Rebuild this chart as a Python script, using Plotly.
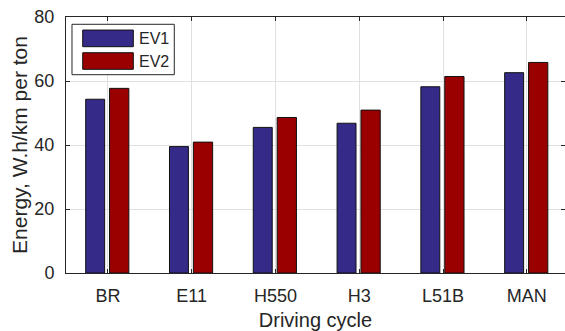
import plotly.graph_objects as go

categories = ["BR", "E11", "H550", "H3", "L51B", "MAN"]
ev1 = [54.3, 39.5, 45.5, 46.8, 58.2, 62.6]
ev2 = [57.7, 40.9, 48.6, 50.9, 61.4, 65.8]
series_names = ["EV1", "EV2"]
y_ticks = [0, 20, 40, 60, 80]

c1 = "#352a87"
c2 = "#9b0000"
txt = "#262626"
font = "Liberation Sans, Arial, sans-serif"

fig = go.Figure()
fig.add_trace(go.Bar(x=categories, y=ev1, name=series_names[0], marker=dict(color=c1, line=dict(color="#111111", width=1)),
                     offset=-0.265, width=0.226, showlegend=False))
fig.add_trace(go.Bar(x=categories, y=ev2, name=series_names[1], marker=dict(color=c2, line=dict(color="#111111", width=1)),
                     offset=0.02, width=0.23, showlegend=False))

fig.update_layout(
    template="none",
    width=565, height=331,
    margin=dict(l=66, r=0, t=17, b=58, pad=0),
    paper_bgcolor="white", plot_bgcolor="white",
    barmode="overlay",
    font=dict(family=font, color=txt, size=18),
)
fig.update_xaxes(
    type="category", range=[-0.5, 5.455], automargin=False,
    showgrid=True, gridcolor="#e0e0e0", gridwidth=1,
    showline=True, linecolor="#262626", linewidth=1, mirror="ticks",
    ticks="inside", ticklen=4, tickcolor="#262626",
    tickfont=dict(size=18, color=txt), ticklabelstandoff=6,
    title=dict(text="Driving cycle", font=dict(size=20, color=txt), standoff=9),
    zeroline=False,
)
fig.update_yaxes(
    range=[0, 80], tickvals=y_ticks, automargin=False,
    showgrid=True, gridcolor="#e0e0e0", gridwidth=1,
    showline=True, linecolor="#262626", linewidth=1, mirror="ticks",
    ticks="inside", ticklen=4, tickcolor="#262626",
    tickfont=dict(size=18, color=txt), ticklabelstandoff=7,
    title=dict(text="Energy, W.h/km per ton", font=dict(size=21, color=txt), standoff=1),
    zeroline=False,
)

# legend drawn as box + wide swatches
shapes = [
    dict(type="rect", xref="paper", yref="paper", x0=0.012, x1=0.217, y0=0.7746, y1=0.9715,
         line=dict(color="#262626", width=1), fillcolor="white", layer="above"),
    dict(type="rect", xref="paper", yref="paper", x0=0.0335, x1=0.1349, y0=0.884, y1=0.949,
         line=dict(color="#111111", width=1), fillcolor=c1, layer="above"),
    dict(type="rect", xref="paper", yref="paper", x0=0.0335, x1=0.1349, y0=0.7957, y1=0.8605,
         line=dict(color="#111111", width=1), fillcolor=c2, layer="above"),
]
fig.update_layout(shapes=shapes)
for name, yy in zip(series_names, [0.9168, 0.828]):
    fig.add_annotation(x=0.1423, y=yy, xref="paper", yref="paper", text=name, showarrow=False,
                       xanchor="left", yanchor="middle", font=dict(size=16, color=txt))

fig.write_html("out.html", config={"displayModeBar": False},
               post_script="document.body.style.margin='0';document.body.style.padding='0';")
